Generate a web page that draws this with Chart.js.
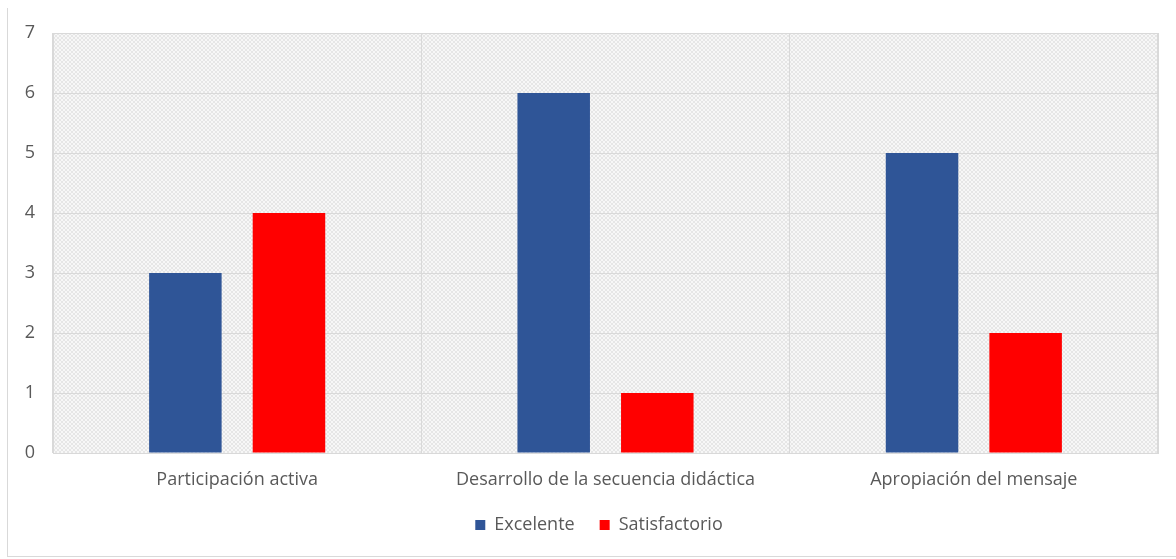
<!DOCTYPE html>
<html>
<head>
<meta charset="utf-8">
<script src="https://cdn.jsdelivr.net/npm/chart.js@4.4.0/dist/chart.umd.min.js"></script>
<style>
  html, body { margin: 0; padding: 0; background: #fff; }
  #wrap { position: absolute; left: 0; top: 0; width: 1176px; height: 559px; }
  #frame { position: absolute; left: 7px; top: 8px; width: 1169px; height: 549px; border-left: 1px solid #d9d9d9; border-bottom: 1px solid #d9d9d9; box-sizing: border-box; pointer-events: none; }
</style>
</head>
<body>
<div id="wrap"><canvas id="c" width="1176" height="559"></canvas></div>
<div id="frame"></div>
<script>
const categories = ["Participación activa", "Desarrollo de la secuencia didáctica", "Apropiación del mensaje"];
const excelente = [3, 6, 5];
const satisfactorio = [4, 1, 2];
const seriesNames = ["Excelente", "Satisfactorio"];
const yTicks = [0, 1, 2, 3, 4, 5, 6, 7];

function makePattern() {
  const p = document.createElement('canvas');
  p.width = 4; p.height = 4;
  const g = p.getContext('2d');
  g.fillStyle = '#f7f7f7';
  g.fillRect(0, 0, 4, 4);
  g.fillStyle = '#e6e6e6';
  for (let i = 0; i < 4; i++) {
    g.fillRect(i, i, 1, 1);
    g.fillRect(3 - i, i, 1, 1);
  }
  return document.getElementById('c').getContext('2d').createPattern(p, 'repeat');
}

const bgPlugin = {
  id: 'plotBg',
  afterLayout(chart) {
    if (chart.legend) { chart.legend.left += 20; chart.legend.right += 20; }
  },
  beforeDraw(chart) {
    const { ctx, chartArea: a } = chart;
    ctx.save();
    ctx.fillStyle = makePattern();
    ctx.fillRect(a.left, a.top, a.right - a.left, a.bottom - a.top);
    ctx.restore();
  },
  afterDatasetsDraw(chart) {
    const { ctx, chartArea: a } = chart;
    ctx.save();
    ctx.strokeStyle = '#d9d9d9';
    ctx.lineWidth = 1;
    ctx.strokeRect(a.left + 0.5, a.top + 0.5, a.right - a.left - 1, a.bottom - a.top);
    ctx.restore();
  }
};

const FONT = "'Open Sans', 'Liberation Sans', sans-serif";

new Chart(document.getElementById('c'), {
  type: 'bar',
  data: {
    labels: categories,
    datasets: [
      { label: seriesNames[0], data: excelente, backgroundColor: '#2F5597', categoryPercentage: 0.5625, barPercentage: 0.70 },
      { label: seriesNames[1], data: satisfactorio, backgroundColor: '#FF0000', categoryPercentage: 0.5625, barPercentage: 0.70 }
    ]
  },
  options: {
    responsive: false,
    animation: false,
    layout: { padding: { left: 0, right: 18, top: 33, bottom: 15 } },
    scales: {
      x: {
        grid: { display: true, offset: true, color: '#d9d9d9', drawTicks: false },
        border: { display: true, color: '#d9d9d9' },
        ticks: { color: '#595959', font: { family: FONT, size: 18 }, padding: 16 },
        afterFit(s) { s.height = 38; }
      },
      y: {
        min: 0, max: 7,
        afterBuildTicks(s) { s.ticks = yTicks.map(v => ({ value: v })); },
        grid: { color: '#d9d9d9', drawTicks: false },
        border: { display: false },
        ticks: { color: '#595959', font: { family: FONT, size: 18 }, padding: 18, stepSize: 1 },
        afterFit(s) { s.width = 53; }
      }
    },
    plugins: {
      legend: {
        position: 'bottom',
        labels: { color: '#595959', font: { family: FONT, size: 18 }, boxWidth: 10, boxHeight: 10, padding: 25 }
      },
      tooltip: { enabled: false }
    }
  },
  plugins: [bgPlugin]
});
</script>
</body>
</html>
